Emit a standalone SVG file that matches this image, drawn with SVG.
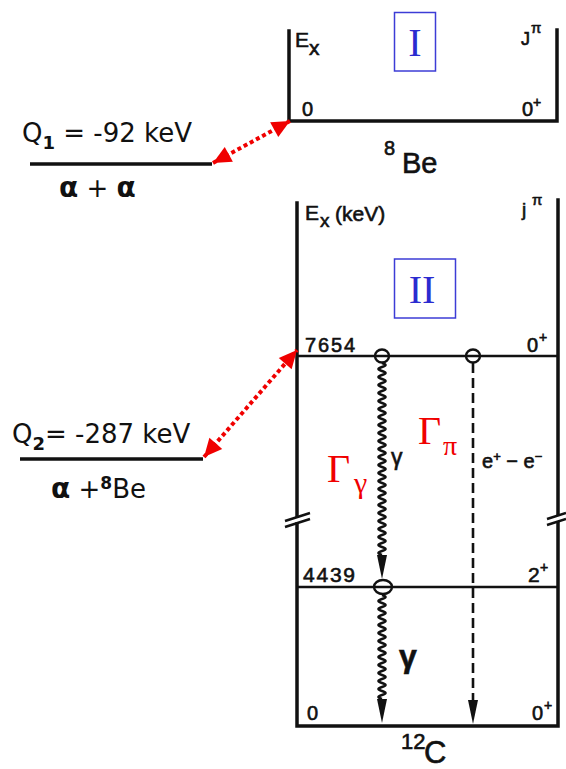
<svg xmlns="http://www.w3.org/2000/svg" width="566" height="769" viewBox="0 0 566 769">
<style>
.frame{stroke:#111;stroke-width:3.5;fill:none;stroke-linecap:square}
.lvl{stroke:#111;stroke-width:2.5;fill:none}
.lab{font-family:"Liberation Sans",Arial,sans-serif;fill:#111;stroke:#111;stroke-width:0.6}
.q{font-family:"DejaVu Sans",Verdana,sans-serif;fill:#111}
.roman{font-family:"Liberation Serif","Times New Roman",serif;fill:#2b2bd0}
.box{fill:none;stroke:#3c3cd6;stroke-width:1.5}
.gam{font-family:"Liberation Serif","Times New Roman",serif;fill:#f00000}
.red{stroke:#f00000;stroke-width:4;stroke-dasharray:4 3;fill:none}
.wave{stroke:#111;stroke-width:2.6;fill:none}
.dash{stroke:#111;stroke-width:2.6;stroke-dasharray:10 5;fill:none}
.node{stroke:#111;stroke-width:2.4;fill:none}
</style>
<defs>
<marker id="redhead" markerUnits="userSpaceOnUse" markerWidth="19" markerHeight="17" refX="18" refY="8.5" orient="auto-start-reverse" overflow="visible">
<path d="M0,0 L18,8.5 L0,17 z" fill="#f00000"/>
</marker>
<marker id="blackhead" markerUnits="userSpaceOnUse" markerWidth="24" markerHeight="10" refX="0" refY="5" orient="90" overflow="visible">
<path d="M0,0 L24,5 L0,10 z" fill="#111"/>
</marker>
</defs>
<rect width="566" height="769" fill="#fff"/>

<g id="be8-scheme">
<path class="frame" d="M289,31 V121 H557 V30"/>
<text class="lab" x="295" y="47" font-size="21">E<tspan x="309" y="55">x</tspan></text>
<text class="lab" x="521" y="45" font-size="18">J<tspan x="531" y="33" font-size="15">π</tspan></text>
<text class="lab" x="302" y="116" font-size="20">0</text>
<text class="lab" x="522" y="116" font-size="20">0<tspan x="533" y="107" font-size="14">+</tspan></text>
<text class="lab" x="384" y="155" font-size="20">8<tspan x="402" y="173" font-size="29">Be</tspan></text>
</g>

<g id="label-I">
<rect class="box" x="394.5" y="12.5" width="41" height="58.5"/>
<text class="roman" x="415" y="56" text-anchor="middle" font-size="40">I</text>
</g>

<g id="c12-scheme">
<path class="frame" d="M297,203 V516 M297,524 V726 H558 V523 M558,514 V200"/>
<path stroke="#111" stroke-width="2.5" fill="none" d="M285,521 L310,513 M285,527 L310,519 M547,519 L566,513 M547,525 L566,519"/>
<line class="lvl" x1="297" y1="356" x2="558" y2="356"/>
<line class="lvl" x1="297" y1="587" x2="558" y2="587"/>
<text class="lab" x="305" y="220" font-size="21">E<tspan x="320" y="227" font-size="19">x</tspan><tspan x="335" y="221">(keV)</tspan></text>
<text class="lab" x="522" y="216" font-size="19">j<tspan x="532" y="205" font-size="15">π</tspan></text>
<text class="lab" x="305" y="352" font-size="20" textLength="50">7654</text>
<text class="lab" x="527" y="352" font-size="20">0<tspan x="539" y="342" font-size="14">+</tspan></text>
<text class="lab" x="303" y="582" font-size="21" textLength="52">4439</text>
<text class="lab" x="528" y="582" font-size="21">2<tspan x="540" y="572" font-size="14">+</tspan></text>
<text class="lab" x="307" y="720" font-size="20">0</text>
<text class="lab" x="532" y="720" font-size="20">0<tspan x="544" y="710" font-size="14">+</tspan></text>
<text class="lab" x="401" y="749" font-size="22">12<tspan x="424" y="763" font-size="31">C</tspan></text>
</g>

<g id="label-II">
<rect class="box" x="394.5" y="259" width="61" height="59"/>
<text class="roman" x="422" y="303" text-anchor="middle" font-size="40">II</text>
</g>

<g id="q1-threshold">
<line stroke="#111" stroke-width="3.5" x1="30" y1="164" x2="212" y2="164"/>
<text class="q" x="22" y="142" font-size="26">Q<tspan font-size="18" font-weight="bold" dy="7">1</tspan><tspan dy="-7"> =  -92 keV</tspan></text>
<text class="q" x="59" y="197" font-size="26"><tspan font-weight="bold" font-size="28">α</tspan> + <tspan font-weight="bold" font-size="28">α</tspan></text>
</g>

<g id="q2-threshold">
<line stroke="#111" stroke-width="3.5" x1="20" y1="459" x2="203" y2="459"/>
<text class="q" x="12" y="443" font-size="26">Q<tspan font-size="18" font-weight="bold" dy="7">2</tspan><tspan dy="-7">=  -287 keV</tspan></text>
<text class="q" x="51" y="498" font-size="26"><tspan font-weight="bold" font-size="28">α</tspan> +<tspan font-weight="bold" font-size="17" dy="-9">8</tspan><tspan dy="9">Be</tspan></text>
</g>

<g id="connectors">
<line class="red" x1="213" y1="163" x2="290" y2="121" marker-start="url(#redhead)" marker-end="url(#redhead)"/>
<line class="red" x1="204" y1="457" x2="297" y2="350" marker-start="url(#redhead)" marker-end="url(#redhead)"/>
<path class="wave" marker-end="url(#blackhead)" d="M382,363 q7,2 0,4 t0,4 t0,4 t0,4 t0,4 t0,4 t0,4 t0,4 t0,4 t0,4 t0,4 t0,4 t0,4 t0,4 t0,4 t0,4 t0,4 t0,4 t0,4 t0,4 t0,4 t0,4 t0,4 t0,4 t0,4 t0,4 t0,4 t0,4 t0,4 t0,4 t0,4 t0,4 t0,4 t0,4 t0,4 t0,4 t0,4 t0,4 t0,4 t0,4 t0,4 t0,4 t0,4 t0,4 t0,4 t0,4 t0,4 t0,4"/>
<path class="wave" marker-end="url(#blackhead)" d="M382,595 q7,2 0,4 t0,4 t0,4 t0,4 t0,4 t0,4 t0,4 t0,4 t0,4 t0,4 t0,4 t0,4 t0,4 t0,4 t0,4 t0,4 t0,4 t0,4 t0,4 t0,4 t0,4 t0,4 t0,4 t0,4 t0,4 t0,4"/>
<line class="dash" x1="473" y1="363" x2="473" y2="700" marker-end="url(#blackhead)"/>
</g>

<g id="level-nodes">
<ellipse class="node" cx="382" cy="356" rx="7" ry="6.5"/>
<ellipse class="node" cx="473" cy="356" rx="7" ry="6.5"/>
<ellipse class="node" cx="383" cy="587" rx="9" ry="7"/>
</g>

<g id="transition-labels">
<text class="lab" x="391" y="465" font-size="23">γ</text>
<text class="lab" x="399" y="667" font-size="32" font-weight="bold">γ</text>
<text class="lab" x="482" y="468" font-size="20">e<tspan font-size="13" dy="-7">+</tspan><tspan dy="7"> − e</tspan><tspan font-size="13" dy="-7">−</tspan></text>
<text class="gam" x="418" y="444" font-size="40">Γ<tspan x="443" y="455" font-size="28">π</tspan></text>
<text class="gam" x="327" y="482" font-size="40">Γ<tspan x="354" y="493" font-size="30">γ</tspan></text>
</g>
</svg>
